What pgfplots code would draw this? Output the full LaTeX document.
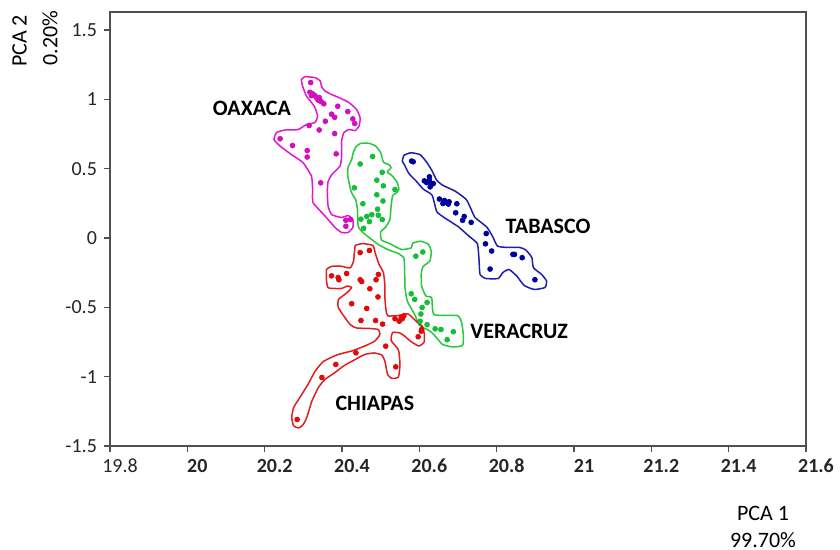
\documentclass[border=0pt]{standalone}
\usepackage{fontspec}
\setmainfont{Carlito}
\usepackage{pgfplots}
\pgfplotsset{compat=1.18}

\definecolor{oaxline}{RGB}{225,25,205}
\definecolor{oaxdot}{RGB}{210,15,190}
\definecolor{verline}{RGB}{40,200,60}
\definecolor{verdot}{RGB}{20,190,55}
\definecolor{tabline}{RGB}{30,30,170}
\definecolor{tabdot}{RGB}{0,0,160}
\definecolor{chiline}{RGB}{225,30,30}
\definecolor{chidot}{RGB}{225,10,10}
\definecolor{framegray}{RGB}{80,80,80}

\begin{document}
\begin{tikzpicture}
\begin{axis}[
  scale only axis,
  width=348pt, height=217pt,
  xmin=19.8, xmax=21.6, ymin=-1.5, ymax=1.63,
  xtick={19.8,20,20.2,20.4,20.6,20.8,21,21.2,21.4,21.6},
  xticklabels={19.8,\textbf{20},\textbf{20.2},\textbf{20.4},\textbf{20.6},\textbf{20.8},\textbf{21},\textbf{21.2},\textbf{21.4},\textbf{21.6}},
  ytick={-1.5,-1,-0.5,0,0.5,1,1.5},
  yticklabels={-1.5,-1,-0.5,0,0.5,1,1.5},
  xtick pos=bottom, ytick pos=left,
  tick align=outside,
  major tick length=3pt,
  axis line style={draw=framegray, line width=0.7pt},
  tick style={draw=framegray, line width=0.6pt},
  ticklabel style={font=\fontsize{10}{12}\selectfont, text=black!85},
  xticklabel style={xshift=5pt},
  clip=false,
  mark options={solid},
]

% ---------------- OAXACA ----------------
\addplot[draw=oaxline, line width=0.75pt, line join=round, smooth, tension=0.3, mark=none] coordinates {
(20.304,1.164) (20.330,1.157) (20.344,1.132) (20.347,1.092) (20.356,1.060)
(20.373,1.035) (20.395,1.009) (20.418,0.977) (20.438,0.926) (20.447,0.865)
(20.444,0.807) (20.434,0.775) (20.418,0.782) (20.405,0.761) (20.399,0.699)
(20.399,0.588) (20.395,0.519) (20.374,0.458) (20.364,0.407) (20.362,0.328)
(20.364,0.231) (20.373,0.169) (20.399,0.148) (20.416,0.162) (20.428,0.133)
(20.428,0.076) (20.416,0.040) (20.399,0.040) (20.382,0.076) (20.356,0.159)
(20.325,0.256) (20.324,0.350) (20.321,0.447) (20.299,0.544) (20.269,0.602)
(20.240,0.663) (20.224,0.710) (20.231,0.761) (20.253,0.779) (20.286,0.782)
(20.308,0.818) (20.330,0.833) (20.337,0.880) (20.328,0.952) (20.308,1.024)
(20.298,1.096) (20.295,1.143) (20.304,1.164)
};
\addplot[only marks, mark=*, mark size=1.2pt, color=oaxdot] coordinates {
(20.319,1.121) (20.317,1.051) (20.324,1.040) (20.330,1.027) (20.335,1.008)
(20.339,0.994) (20.346,0.984) (20.353,0.968) (20.341,1.013) (20.321,1.027)
(20.389,0.950) (20.415,0.912) (20.373,0.893) (20.381,0.871) (20.357,0.842)
(20.428,0.859) (20.433,0.826) (20.315,0.811) (20.341,0.779) (20.381,0.753)
(20.240,0.716) (20.272,0.667) (20.310,0.631) (20.310,0.584) (20.385,0.607)
(20.345,0.398) (20.410,0.128) (20.422,0.133) (20.410,0.085)
};

% ---------------- VERACRUZ ----------------
\addplot[draw=verline, line width=0.75pt, line join=round, smooth, tension=0.3, mark=none] coordinates {
(20.448,0.683) (20.470,0.683) (20.487,0.663) (20.500,0.616) (20.507,0.548)
(20.521,0.530) (20.527,0.508) (20.517,0.476) (20.529,0.451) (20.543,0.400)
(20.547,0.350) (20.541,0.326) (20.531,0.306) (20.527,0.229) (20.524,0.133)
(20.513,0.079) (20.500,0.043) (20.502,-0.014) (20.523,-0.040) (20.554,-0.083)
(20.579,-0.071) (20.583,-0.037) (20.604,-0.023) (20.624,-0.047) (20.631,-0.101)
(20.627,-0.167) (20.610,-0.205) (20.605,-0.251) (20.606,-0.348) (20.617,-0.418)
(20.632,-0.431) (20.638,-0.552) (20.698,-0.559) (20.709,-0.606) (20.714,-0.702)
(20.712,-0.774) (20.688,-0.786) (20.660,-0.768) (20.645,-0.720) (20.628,-0.672)
(20.600,-0.629) (20.588,-0.552) (20.569,-0.456) (20.563,-0.359) (20.562,-0.233)
(20.560,-0.143) (20.544,-0.110) (20.518,-0.083) (20.494,-0.047) (20.474,-0.005)
(20.453,0.042) (20.442,0.085) (20.440,0.200) (20.436,0.272) (20.424,0.332)
(20.415,0.446) (20.416,0.512) (20.425,0.566) (20.429,0.614) (20.436,0.658)
(20.448,0.683)
};
\addplot[only marks, mark=*, mark size=1.2pt, color=verdot] coordinates {
(20.479,0.588) (20.447,0.534) (20.504,0.474) (20.490,0.417) (20.507,0.376)
(20.432,0.362) (20.537,0.350) (20.490,0.312) (20.506,0.267) (20.454,0.247)
(20.492,0.208) (20.477,0.168) (20.464,0.155) (20.494,0.164) (20.449,0.136)
(20.471,0.118) (20.504,0.133) (20.456,0.070) (20.591,-0.131) (20.609,-0.101)
(20.579,-0.402) (20.588,-0.443) (20.620,-0.465) (20.607,-0.501) (20.604,-0.548)
(20.602,-0.600) (20.620,-0.625) (20.641,-0.655) (20.656,-0.660) (20.688,-0.676)
(20.672,-0.733)
};

% ---------------- TABASCO ----------------
\addplot[draw=tabline, line width=0.75pt, line join=round, smooth, tension=0.3, mark=none] coordinates {
(20.560,0.597) (20.578,0.615) (20.602,0.601) (20.619,0.547) (20.632,0.489)
(20.645,0.417) (20.660,0.381) (20.692,0.339) (20.721,0.279) (20.733,0.213)
(20.744,0.148) (20.774,0.080) (20.789,0.014) (20.802,-0.058) (20.827,-0.068)
(20.860,-0.068) (20.876,-0.088) (20.891,-0.141) (20.895,-0.214) (20.916,-0.262)
(20.929,-0.310) (20.925,-0.357) (20.897,-0.371) (20.871,-0.342) (20.852,-0.274)
(20.832,-0.227) (20.816,-0.249) (20.804,-0.292) (20.772,-0.292) (20.757,-0.262)
(20.754,-0.141) (20.750,-0.040) (20.728,0.014) (20.701,0.081) (20.664,0.148)
(20.645,0.191) (20.633,0.309) (20.610,0.353) (20.593,0.407) (20.573,0.465)
(20.562,0.525) (20.556,0.555) (20.560,0.597)
};
\addplot[only marks, mark=*, mark size=1.2pt, color=tabdot] coordinates {
(20.584,0.550) (20.580,0.555) (20.613,0.412) (20.619,0.400) (20.626,0.417)
(20.632,0.388) (20.628,0.369) (20.636,0.393) (20.626,0.441) (20.652,0.281)
(20.665,0.270) (20.671,0.256) (20.675,0.245) (20.677,0.261) (20.661,0.249)
(20.697,0.247) (20.694,0.182) (20.716,0.155) (20.712,0.128) (20.734,0.113)
(20.773,0.032) (20.771,-0.042) (20.787,-0.094) (20.842,-0.118) (20.846,-0.118)
(20.866,-0.142) (20.783,-0.224) (20.899,-0.301)
};

% ---------------- CHIAPAS ----------------
\addplot[draw=chiline, line width=0.75pt, line join=round, smooth, tension=0.3, mark=none] coordinates {
(20.434,-0.054) (20.452,-0.040) (20.480,-0.054) (20.487,-0.119) (20.496,-0.191)
(20.507,-0.249) (20.511,-0.342) (20.511,-0.433) (20.514,-0.526) (20.519,-0.562)
(20.545,-0.559) (20.571,-0.548) (20.594,-0.606) (20.608,-0.638) (20.613,-0.696)
(20.612,-0.753) (20.599,-0.779) (20.580,-0.750) (20.563,-0.710) (20.550,-0.685)
(20.531,-0.681) (20.527,-0.739) (20.546,-0.807) (20.550,-0.912) (20.546,-1.002)
(20.529,-1.013) (20.518,-0.984) (20.511,-0.890) (20.503,-0.844) (20.483,-0.829)
(20.459,-0.840) (20.434,-0.876) (20.404,-0.923) (20.382,-0.970) (20.356,-1.020)
(20.339,-1.078) (20.322,-1.177) (20.309,-1.294) (20.299,-1.348) (20.288,-1.370)
(20.275,-1.355) (20.270,-1.294) (20.275,-1.222) (20.291,-1.150) (20.312,-1.056)
(20.330,-0.963) (20.352,-0.890) (20.390,-0.840) (20.425,-0.815) (20.459,-0.779)
(20.485,-0.743) (20.498,-0.696) (20.494,-0.660) (20.469,-0.652) (20.438,-0.649)
(20.421,-0.624) (20.391,-0.505) (20.391,-0.443) (20.412,-0.397) (20.425,-0.357)
(20.413,-0.346) (20.399,-0.364) (20.365,-0.360) (20.360,-0.310) (20.360,-0.227)
(20.373,-0.205) (20.395,-0.202) (20.421,-0.216) (20.430,-0.166) (20.432,-0.105)
(20.434,-0.054)
};
\addplot[only marks, mark=*, mark size=1.2pt, color=chidot] coordinates {
(20.447,-0.105) (20.471,-0.090) (20.373,-0.273) (20.390,-0.285) (20.392,-0.301)
(20.412,-0.256) (20.447,-0.301) (20.451,-0.314) (20.488,-0.301) (20.494,-0.263)
(20.472,-0.366) (20.493,-0.425) (20.425,-0.474) (20.464,-0.508) (20.449,-0.595)
(20.487,-0.595) (20.505,-0.621) (20.537,-0.582) (20.548,-0.600) (20.556,-0.582)
(20.560,-0.561) (20.553,-0.575) (20.605,-0.672) (20.606,-0.660) (20.597,-0.712)
(20.513,-0.780) (20.436,-0.828) (20.384,-0.912) (20.539,-0.929) (20.348,-1.006)
(20.284,-1.309)
};

% group names
\node[font=\bfseries\fontsize{11}{13}\selectfont] at (axis cs:20.167,0.934) {OAXACA};
\node[font=\bfseries\fontsize{11}{13}\selectfont] at (axis cs:20.933,0.083) {TABASCO};
\node[font=\bfseries\fontsize{11}{13}\selectfont] at (axis cs:20.858,-0.674) {VERACRUZ};
\node[font=\bfseries\fontsize{11}{13}\selectfont] at (axis cs:20.485,-1.193) {CHIAPAS};

\coordinate (bl) at (rel axis cs:0,0);
\coordinate (tl) at (rel axis cs:0,1);
\end{axis}

% axis titles
\node[rotate=90, font=\fontsize{11}{13}\selectfont] at ([xshift=-45.25pt, yshift=-14.5pt]tl) {PCA 2};
\node[rotate=90, font=\fontsize{11}{13}\selectfont] at ([xshift=-30pt, yshift=-13pt]tl) {0.20\%};
\node[font=\fontsize{11}{13}\selectfont] at ([xshift=326.5pt, yshift=-33.5pt]bl) {PCA 1};
\node[font=\fontsize{11}{13}\selectfont] at ([xshift=326.5pt, yshift=-47pt]bl) {99.70\%};

\pgfresetboundingbox
\path[use as bounding box] ([xshift=-55pt, yshift=-52pt]bl) rectangle ++(420pt,275pt);
\end{tikzpicture}
\end{document}
